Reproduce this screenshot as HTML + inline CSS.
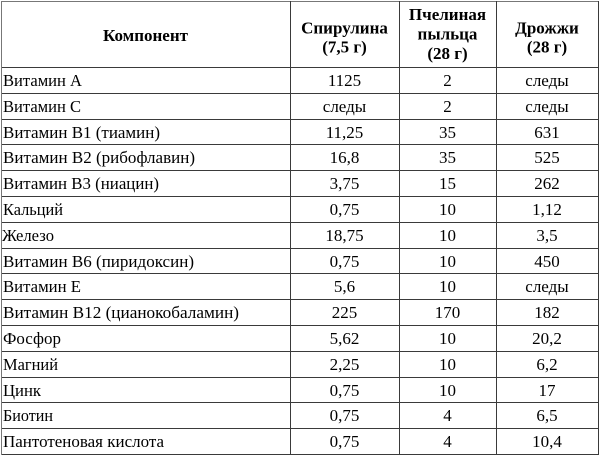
<!DOCTYPE html>
<html>
<head>
<meta charset="utf-8">
<style>
html,body{margin:0;padding:0;background:#fff;}
svg{display:block;}
text{font-family:"Liberation Serif","Times New Roman",Times,"Noto Serif CJK SC",serif;font-size:17px;fill:#000;}
.b{font-weight:bold;}
.m{text-anchor:middle;}
</style>
</head>
<body>
<svg width="600" height="457" viewBox="0 0 600 457" xmlns="http://www.w3.org/2000/svg">
<rect x="0" y="0" width="600" height="457" fill="#fff"/>
<g fill="#3a3a3a">
<rect x="1" y="1" width="598" height="1" fill="#777"/>
<rect x="1" y="67" width="598" height="1"/>
<rect x="1" y="93" width="598" height="1"/>
<rect x="1" y="119" width="598" height="1"/>
<rect x="1" y="144" width="598" height="1"/>
<rect x="1" y="170" width="598" height="1"/>
<rect x="1" y="196" width="598" height="1"/>
<rect x="1" y="222" width="598" height="1"/>
<rect x="1" y="248" width="598" height="1"/>
<rect x="1" y="273" width="598" height="1"/>
<rect x="1" y="299" width="598" height="1"/>
<rect x="1" y="325" width="598" height="1"/>
<rect x="1" y="351" width="598" height="1"/>
<rect x="1" y="377" width="598" height="1"/>
<rect x="1" y="402" width="598" height="1"/>
<rect x="1" y="428" width="598" height="1"/>
<rect x="1" y="454" width="598" height="1"/>
<rect x="1" y="1" width="1" height="454" fill="#777"/>
<rect x="290" y="1" width="1" height="454"/>
<rect x="399" y="1" width="1" height="454"/>
<rect x="496" y="1" width="1" height="454"/>
<rect x="598" y="1" width="1" height="454"/>
</g>

<!-- header -->
<text class="b m" x="145.5" y="41" textLength="85" lengthAdjust="spacingAndGlyphs">Компонент</text>
<text class="b m" x="344.5" y="33.5">Спирулина</text>
<text class="b m" x="344.5" y="52.5">(7,5 г)</text>
<text class="b m" x="447.5" y="20">Пчелиная</text>
<text class="b m" x="447.5" y="39.5">пыльца</text>
<text class="b m" x="447.5" y="59">(28 г)</text>
<text class="b m" x="547" y="33.5">Дрожжи</text>
<text class="b m" x="547" y="52.5">(28 г)</text>

<!-- left column -->
<text x="3" y="86" textLength="79" lengthAdjust="spacingAndGlyphs">Витамин A</text>
<text x="3" y="112" textLength="78" lengthAdjust="spacingAndGlyphs">Витамин C</text>
<text x="3" y="138" textLength="157" lengthAdjust="spacingAndGlyphs">Витамин B1 (тиамин)</text>
<text x="3" y="163" textLength="192" lengthAdjust="spacingAndGlyphs">Витамин B2 (рибофлавин)</text>
<text x="3" y="189" textLength="156" lengthAdjust="spacingAndGlyphs">Витамин B3 (ниацин)</text>
<text x="3" y="215" textLength="60" lengthAdjust="spacingAndGlyphs">Кальций</text>
<text x="2" y="241" textLength="52" lengthAdjust="spacingAndGlyphs">Железо</text>
<text x="3" y="267" textLength="191" lengthAdjust="spacingAndGlyphs">Витамин B6 (пиридоксин)</text>
<text x="3" y="292" textLength="78" lengthAdjust="spacingAndGlyphs">Витамин E</text>
<text x="3" y="318" textLength="236" lengthAdjust="spacingAndGlyphs">Витамин B12 (цианокобаламин)</text>
<text x="3" y="344" textLength="58" lengthAdjust="spacingAndGlyphs">Фосфор</text>
<text x="3" y="370" textLength="55" lengthAdjust="spacingAndGlyphs">Магний</text>
<text x="3" y="396" textLength="38" lengthAdjust="spacingAndGlyphs">Цинк</text>
<text x="3" y="421" textLength="50" lengthAdjust="spacingAndGlyphs">Биотин</text>
<text x="3" y="447" textLength="161" lengthAdjust="spacingAndGlyphs">Пантотеновая кислота</text>

<!-- Spirulina -->
<g class="m">
<text class="m" x="344.5" y="86">1125</text>
<text class="m" x="344.5" y="112">следы</text>
<text class="m" x="344.5" y="138">11,25</text>
<text class="m" x="344.5" y="163">16,8</text>
<text class="m" x="344.5" y="189">3,75</text>
<text class="m" x="344.5" y="215">0,75</text>
<text class="m" x="344.5" y="241">18,75</text>
<text class="m" x="344.5" y="267">0,75</text>
<text class="m" x="344.5" y="292">5,6</text>
<text class="m" x="344.5" y="318">225</text>
<text class="m" x="344.5" y="344">5,62</text>
<text class="m" x="344.5" y="370">2,25</text>
<text class="m" x="344.5" y="396">0,75</text>
<text class="m" x="344.5" y="421">0,75</text>
<text class="m" x="344.5" y="447">0,75</text>
</g>

<!-- Pollen -->
<text class="m" x="447.5" y="86">2</text>
<text class="m" x="447.5" y="112">2</text>
<text class="m" x="447.5" y="138">35</text>
<text class="m" x="447.5" y="163">35</text>
<text class="m" x="447.5" y="189">15</text>
<text class="m" x="447.5" y="215">10</text>
<text class="m" x="447.5" y="241">10</text>
<text class="m" x="447.5" y="267">10</text>
<text class="m" x="447.5" y="292">10</text>
<text class="m" x="447.5" y="318">170</text>
<text class="m" x="447.5" y="344">10</text>
<text class="m" x="447.5" y="370">10</text>
<text class="m" x="447.5" y="396">10</text>
<text class="m" x="447.5" y="421">4</text>
<text class="m" x="447.5" y="447">4</text>

<!-- Yeast -->
<text class="m" x="547" y="86">следы</text>
<text class="m" x="547" y="112">следы</text>
<text class="m" x="547" y="138">631</text>
<text class="m" x="547" y="163">525</text>
<text class="m" x="547" y="189">262</text>
<text class="m" x="547" y="215">1,12</text>
<text class="m" x="547" y="241">3,5</text>
<text class="m" x="547" y="267">450</text>
<text class="m" x="547" y="292">следы</text>
<text class="m" x="547" y="318">182</text>
<text class="m" x="547" y="344">20,2</text>
<text class="m" x="547" y="370">6,2</text>
<text class="m" x="547" y="396">17</text>
<text class="m" x="547" y="421">6,5</text>
<text class="m" x="547" y="447">10,4</text>
</svg>
</body>
</html>
